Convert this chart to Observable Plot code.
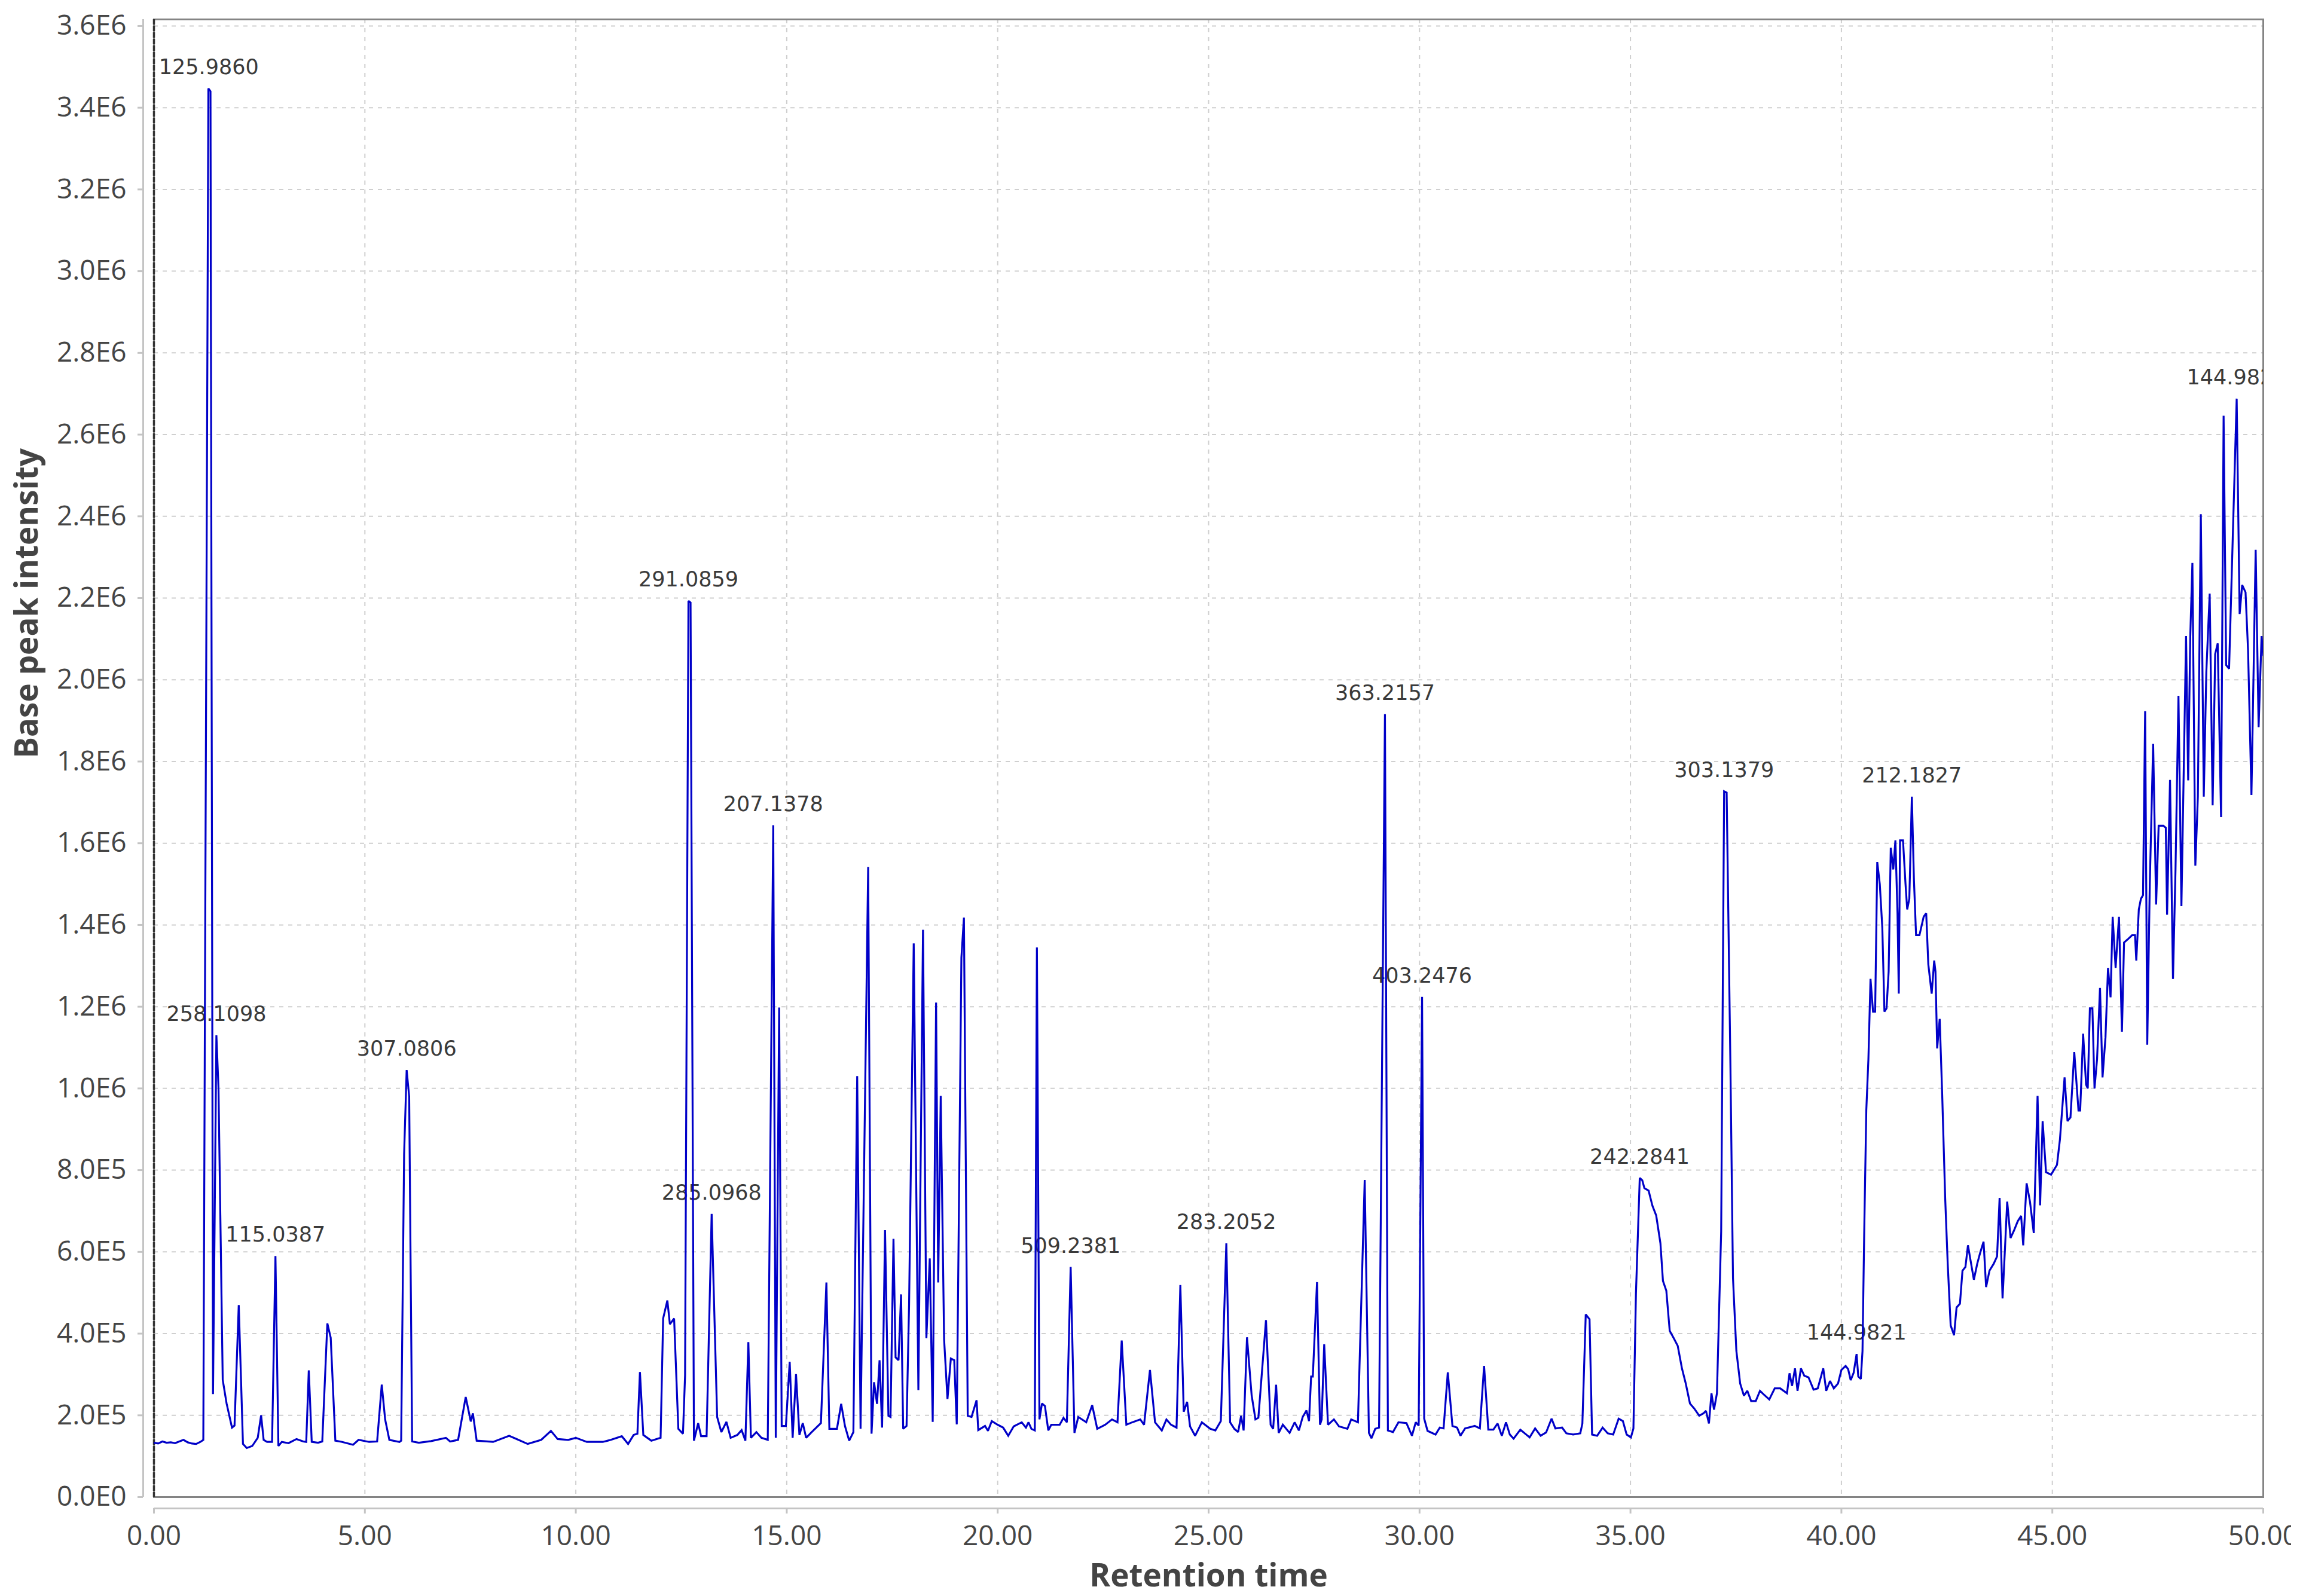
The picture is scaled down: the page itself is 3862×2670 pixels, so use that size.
<!DOCTYPE html>
<html><head><meta charset="utf-8">
<script src="https://cdn.jsdelivr.net/npm/d3@7"></script>
<script src="https://cdn.jsdelivr.net/npm/@observablehq/plot@0.6"></script>
<style>
html,body{margin:0;padding:0;background:#fff;}
#chart{width:3862px;height:2670px;overflow:hidden;background:#fff;}
</style></head><body><div id="chart"></div>
<script>
// Retention time (min) and base peak intensity (x 1E5)
const rt0to10 = [0.00,0.10,0.20,0.30,0.40,0.50,0.60,0.70,0.80,0.90,1.00,1.10,1.17,1.29,1.34,1.40,1.48,1.53,1.63,1.72,1.85,1.91,2.01,2.11,2.20,2.33,2.46,2.54,2.60,2.68,2.80,2.88,2.95,3.03,3.19,3.38,3.54,3.61,3.67,3.74,3.89,3.99,4.11,4.19,4.30,4.46,4.72,4.85,5.10,5.29,5.40,5.48,5.58,5.82,5.86,5.93,5.99,6.05,6.12,6.28,6.57,6.92,7.02,7.21,7.39,7.46,7.51,7.56,7.65,8.04,8.42,8.64,8.86,9.18,9.41,9.57,9.82];
const bpi0to10 = [1.33,1.31,1.36,1.33,1.34,1.32,1.36,1.40,1.34,1.31,1.30,1.35,1.40,34.47,34.40,2.52,11.3,10.0,2.87,2.3,1.7,1.75,4.7,1.30,1.2,1.25,1.45,2.0,1.40,1.35,1.35,5.9,1.25,1.35,1.32,1.42,1.36,1.35,3.1,1.35,1.33,1.36,4.25,3.9,1.38,1.35,1.28,1.40,1.35,1.36,2.75,1.9,1.40,1.35,1.38,8.4,10.45,9.8,1.36,1.33,1.37,1.45,1.36,1.40,2.45,2.1,1.85,2.05,1.38,1.35,1.50,1.40,1.30,1.40,1.62,1.42,1.40];

const rt10to20 = [10.00,10.26,10.64,10.83,11.09,11.24,11.37,11.46,11.52,11.60,11.79,12.01,12.07,12.17,12.23,12.33,12.43,12.54,12.59,12.67,12.72,12.80,12.90,12.97,13.10,13.22,13.35,13.45,13.57,13.67,13.83,13.93,14.02,14.09,14.15,14.28,14.40,14.55,14.68,14.74,14.82,14.88,14.98,15.07,15.14,15.22,15.30,15.38,15.46,15.59,15.81,15.94,16.01,16.19,16.29,16.38,16.48,16.58,16.67,16.75,16.93,17.01,17.07,17.14,17.20,17.26,17.33,17.41,17.46,17.53,17.58,17.65,17.71,17.76,17.84,17.90,18.01,18.12,18.23,18.31,18.39,18.46,18.54,18.59,18.65,18.73,18.81,18.89,18.97,19.03,19.14,19.20,19.29,19.38,19.50,19.54,19.70,19.77,19.86];
const bpi10to20 = [1.45,1.35,1.35,1.40,1.49,1.30,1.52,1.55,3.06,1.52,1.38,1.45,4.37,4.81,4.23,4.37,1.67,1.55,2.98,21.93,21.89,1.38,1.81,1.49,1.49,6.93,1.96,1.59,1.84,1.45,1.52,1.64,1.38,3.79,1.45,1.59,1.45,1.40,16.44,1.45,11.98,1.74,1.74,3.31,1.45,3.01,1.52,1.81,1.45,1.59,1.81,5.25,1.67,1.67,2.28,1.74,1.38,1.59,10.30,1.67,15.42,1.55,2.81,2.28,3.35,1.70,6.53,1.99,1.96,6.32,3.42,3.35,4.96,1.67,1.74,4.71,13.55,2.62,13.88,3.89,5.84,1.84,12.10,5.25,9.82,3.86,2.40,3.39,3.35,1.78,13.2,14.18,1.99,1.96,2.37,1.64,1.74,1.62,1.86];

const rt20to30 = [20.00,20.13,20.25,20.38,20.57,20.67,20.73,20.80,20.88,20.93,20.99,21.05,21.12,21.20,21.27,21.47,21.56,21.64,21.73,21.82,21.91,22.10,22.24,22.36,22.55,22.71,22.84,22.94,23.05,23.19,23.38,23.47,23.61,23.73,23.89,24.00,24.11,24.24,24.33,24.41,24.49,24.56,24.68,24.84,25.04,25.16,25.29,25.42,25.51,25.61,25.70,25.77,25.83,25.91,26.02,26.11,26.18,26.36,26.47,26.53,26.60,26.66,26.76,26.92,27.04,27.14,27.23,27.32,27.38,27.43,27.47,27.57,27.64,27.68,27.74,27.83,27.97,28.09,28.29,28.38,28.54,28.70,28.80,28.86,28.95,29.04,29.18,29.25,29.37,29.50,29.69,29.82,29.91,29.98];
const bpi20to30 = [1.77,1.70,1.50,1.73,1.83,1.70,1.83,1.67,1.63,13.45,1.90,2.29,2.23,1.63,1.77,1.77,1.94,1.83,5.63,1.57,1.96,1.83,2.25,1.67,1.77,1.90,1.83,3.83,1.77,1.83,1.90,1.77,3.11,1.83,1.63,1.90,1.77,1.70,5.19,2.09,2.33,1.73,1.50,1.83,1.67,1.63,1.86,6.21,1.83,1.67,1.59,1.99,1.63,3.91,2.49,1.90,1.94,4.33,1.77,1.67,2.75,1.57,1.77,1.57,1.83,1.63,1.96,2.12,1.86,2.95,2.95,5.26,1.77,1.90,3.74,1.77,1.90,1.73,1.67,1.90,1.83,7.76,1.57,1.44,1.67,1.70,19.16,1.63,1.59,1.83,1.81,1.50,1.83,1.75];

const rt30to40 = [30.06,30.11,30.19,30.38,30.48,30.57,30.67,30.78,30.89,30.97,31.08,31.31,31.43,31.53,31.63,31.75,31.85,31.95,32.05,32.14,32.23,32.39,32.61,32.74,32.87,33.00,33.13,33.22,33.38,33.48,33.64,33.81,33.86,33.94,34.03,34.09,34.21,34.34,34.46,34.59,34.72,34.82,34.91,35.01,35.07,35.13,35.22,35.28,35.33,35.43,35.52,35.61,35.71,35.77,35.85,35.93,36.03,36.12,36.22,36.31,36.41,36.51,36.63,36.73,36.79,36.86,36.92,36.98,37.05,37.15,37.22,37.28,37.37,37.43,37.51,37.60,37.69,37.77,37.86,37.97,38.07,38.16,38.29,38.42,38.55,38.71,38.77,38.83,38.90,38.96,39.04,39.12,39.22,39.34,39.44,39.57,39.64,39.73,39.82,39.92];
const bpi30to40 = [12.24,1.92,1.62,1.53,1.70,1.68,3.05,1.74,1.70,1.50,1.68,1.74,1.68,3.21,1.65,1.65,1.80,1.50,1.83,1.53,1.43,1.65,1.46,1.68,1.50,1.58,1.92,1.68,1.70,1.56,1.53,1.56,1.80,4.47,4.35,1.53,1.50,1.70,1.56,1.53,1.92,1.86,1.53,1.46,1.68,4.99,7.81,7.75,7.56,7.50,7.13,6.89,6.21,5.29,5.05,4.07,3.88,3.70,3.15,2.78,2.29,2.17,1.99,2.05,2.11,1.80,2.54,2.14,2.54,6.5,17.27,17.24,10.50,5.36,3.58,2.78,2.48,2.60,2.35,2.35,2.60,2.51,2.39,2.66,2.66,2.54,3.03,2.72,3.15,2.60,3.15,2.97,2.93,2.63,2.66,3.15,2.60,2.84,2.66,2.78];

const rt40to50 = [40.00,40.10,40.16,40.22,40.29,40.36,40.40,40.46,40.50,40.54,40.59,40.64,40.69,40.75,40.80,40.85,40.91,40.97,41.02,41.07,41.12,41.17,41.23,41.28,41.33,41.36,41.39,41.46,41.52,41.56,41.61,41.67,41.72,41.77,41.85,41.95,42.01,42.06,42.14,42.20,42.23,42.27,42.33,42.39,42.46,42.52,42.59,42.67,42.73,42.81,42.87,42.94,43.00,43.06,43.14,43.22,43.29,43.37,43.43,43.51,43.61,43.69,43.75,43.82,43.86,43.93,44.01,44.09,44.18,44.26,44.31,44.39,44.47,44.56,44.65,44.71,44.77,44.85,44.97,45.11,45.18,45.29,45.36,45.43,45.52,45.62,45.66,45.73,45.80,45.84,45.89,45.95,46.00,46.06,46.13,46.19,46.26,46.32,46.38,46.43,46.50,46.58,46.65,46.70,46.80,46.89,46.96,46.99,47.05,47.10,47.15,47.20,47.25,47.31,47.39,47.46,47.52,47.63,47.69,47.72,47.79,47.86,47.92,47.99,48.06,48.11,48.17,48.22,48.27,48.32,48.39,48.45,48.52,48.59,48.65,48.73,48.80,48.86,48.92,49.00,49.06,49.12,49.19,49.26,49.37,49.44,49.50,49.58,49.64,49.72,49.82,49.89,49.96,50.00];
const bpi40to50 = [3.11,3.21,3.13,2.86,3.04,3.50,2.95,2.89,3.57,6.43,9.46,10.71,12.68,11.88,11.88,15.54,15.00,13.93,11.88,11.96,12.86,15.89,15.36,16.07,14.29,12.32,16.07,16.07,15.00,14.38,14.64,17.14,15.09,13.75,13.75,14.20,14.29,13.04,12.32,13.13,12.86,10.98,11.70,9.82,7.32,5.71,4.20,3.96,4.64,4.73,5.54,5.63,6.16,5.80,5.32,5.71,5.98,6.25,5.14,5.54,5.71,5.89,7.32,4.86,5.71,7.23,6.34,6.52,6.75,6.88,6.16,7.68,7.23,6.46,9.82,7.14,9.20,7.95,7.89,8.13,8.75,10.27,9.20,9.29,10.89,9.46,9.46,11.34,10.09,10.00,11.96,11.96,10.00,10.71,12.46,10.27,11.25,12.95,12.23,14.20,12.95,14.20,11.39,13.57,13.66,13.75,13.75,13.13,14.38,14.64,14.73,19.23,11.07,15.00,18.43,14.50,16.43,16.43,16.38,14.25,17.55,12.68,15.36,19.61,14.46,17.50,21.07,17.54,21.07,22.86,15.45,17.14,24.05,17.14,20.18,22.11,16.93,20.63,20.89,16.64,26.46,20.36,20.27,22.86,26.88,21.61,22.32,22.14,20.71,17.18,23.18,18.84,21.07,20.6];

// Peak annotations (m/z of base peak)
const labelRt   = [1.30, 1.48, 2.88, 5.99, 12.67, 13.22, 14.68, 21.73, 25.42, 29.18, 30.06, 35.22, 37.22, 40.36, 41.67, 49.37];
const labelBpi  = [34.47, 11.3, 5.9, 10.45, 21.93, 6.93, 16.44, 5.63, 6.21, 19.16, 12.24, 7.81, 17.27, 3.50, 17.14, 26.88];
const labelText = ["125.9860","258.1098","115.0387","307.0806","291.0859","285.0968","207.1378","509.2381","283.2052","363.2157","403.2476","242.2841","303.1379","144.9821","212.1827","144.9821"];

// Axis ticks
const xTickValues = [0, 5, 10, 15, 20, 25, 30, 35, 40, 45, 50];
const yTickValues = [0, 2e5, 4e5, 6e5, 8e5, 1e6, 1.2e6, 1.4e6, 1.6e6, 1.8e6, 2e6, 2.2e6, 2.4e6, 2.6e6, 2.8e6, 3e6, 3.2e6, 3.4e6, 3.6e6];

const segments = [[rt0to10, bpi0to10], [rt10to20, bpi10to20], [rt20to30, bpi20to30], [rt30to40, bpi30to40], [rt40to50, bpi40to50]];
const trace = [];
segments.forEach(([ts, vs]) => ts.forEach((t, i) => trace.push({rt: t, bpi: vs[i] * 1e5})));
const labels = labelRt.map((t, i) => ({rt: t, bpi: labelBpi[i] * 1e5, text: labelText[i]}));

const sci = v => {
  if (v === 0) return "0.0E0";
  const e = Math.floor(Math.log10(v) + 1e-9);
  return (v / Math.pow(10, e)).toFixed(1) + "E" + e;
};

const gridStyle = {stroke: "#cfcfcf", strokeWidth: 2, strokeDasharray: "7,8"};

const chart = Plot.plot({
  width: 3832,
  height: 2670,
  marginLeft: 257,
  marginRight: 47,
  marginTop: 32,
  marginBottom: 166,
  style: {background: "#ffffff", fontFamily: "'Open Sans', sans-serif"},
  x: {domain: [0, 50], axis: null},
  y: {domain: [0, 3616000], axis: null},
  marks: [
    Plot.ruleX(xTickValues, gridStyle),
    Plot.ruleY(yTickValues, gridStyle),
    Plot.frame({stroke: "#848484", strokeWidth: 3}),
    Plot.ruleX([0], {stroke: "#333333", strokeWidth: 3.5, strokeDasharray: "9,2"}),
    Plot.ruleX([0], {dx: -18, stroke: "#c4c4c4", strokeWidth: 3}),
    Plot.ruleY([0], {dy: 19, stroke: "#c4c4c4", strokeWidth: 3}),
    Plot.axisX(xTickValues, {
      tickFormat: d => d.toFixed(2), dy: 19, tickSize: 9, tickPadding: 20,
      fontSize: 46, fill: "#454545", stroke: "#c4c4c4", strokeWidth: 3, label: null,
      fontFamily: "'Open Sans', sans-serif"
    }),
    Plot.axisY(yTickValues, {
      tickFormat: sci, dx: -18, tickSize: 9, tickPadding: 19,
      fontSize: 46, fill: "#454545", stroke: "#c4c4c4", strokeWidth: 3, label: null,
      fontFamily: "'Open Sans', sans-serif"
    }),
    Plot.text(labels, {
      x: "rt", y: "bpi", text: "text", dy: -24, lineAnchor: "bottom",
      fontFamily: "'DejaVu Sans', sans-serif", fontSize: 35, fill: "#3a3a3a", clip: true
    }),
    Plot.line(trace, {x: "rt", y: "bpi", stroke: "#0000c8", strokeWidth: 3.2, strokeLinejoin: "miter", strokeMiterlimit: 2, clip: true}),
    Plot.text(["Retention time"], {
      frameAnchor: "bottom", dy: 149, lineAnchor: "bottom",
      fontFamily: "'Open Sans', sans-serif", fontWeight: "bold", fontSize: 53, fill: "#444444"
    }),
    Plot.text(["Base peak intensity"], {
      frameAnchor: "left", dx: -211, rotate: -90,
      fontFamily: "'Open Sans', sans-serif", fontWeight: "bold", fontSize: 53, fill: "#444444"
    })
  ]
});
document.getElementById("chart").appendChild(chart);
</script>
</body></html>
